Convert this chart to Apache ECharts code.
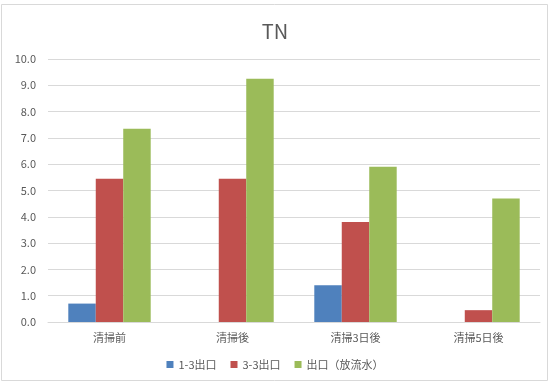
<!DOCTYPE html>
<html>
<head>
<meta charset="utf-8">
<script src="https://cdn.jsdelivr.net/npm/echarts@6/dist/echarts.min.js"></script>
<style>
html,body{margin:0;padding:0;background:#fff;}
#chart{width:550px;height:383px;}
</style>
</head>
<body>
<div id="chart"></div>
<script>
// TN concentration at each sampling point, before and after cleaning
const categories = ['清掃前', '清掃後', '清掃3日後', '清掃5日後'];
const outlet13 = [0.7, null, 1.4, null];
const outlet33 = [5.45, 5.45, 3.8, 0.45];
const outletMain = [7.35, 9.25, 5.9, 4.7];
const seriesNames = ['1-3出口', '3-3出口', '出口（放流水）'];
const colors = ['#4F81BD', '#C0504D', '#9BBB59'];

const font = '"Noto Sans CJK JP", "Noto Sans", sans-serif';
const chart = echarts.init(document.getElementById('chart'));
chart.setOption({
  animation: false,
  backgroundColor: '#fff',
  textStyle: { fontFamily: font },
  graphic: [{
    type: 'rect',
    shape: { x: 1.5, y: 4.5, width: 546, height: 376 },
    style: { fill: 'none', stroke: '#d9d9d9', lineWidth: 1 },
    silent: true
  }],
  title: {
    text: 'TN', left: 'center', top: 16,
    textStyle: { fontFamily: font, fontSize: 20, fontWeight: 'normal', color: '#595959' }
  },
  legend: {
    bottom: 8, left: 'center', itemGap: 14, itemWidth: 7, itemHeight: 7,
    icon: 'rect',
    textStyle: { fontFamily: font, fontSize: 11, color: '#595959' },
    data: seriesNames
  },
  grid: { left: 48, right: 10, top: 59, bottom: 61 },
  xAxis: {
    type: 'category', data: categories,
    axisTick: { show: false },
    axisLine: { lineStyle: { color: '#d9d9d9' } },
    axisLabel: { color: '#595959', fontSize: 11, margin: 10, fontFamily: font }
  },
  yAxis: {
    type: 'value', min: 0, max: 10, interval: 1,
    axisLabel: { color: '#595959', fontSize: 11, margin: 12, formatter: v => v.toFixed(1), fontFamily: font },
    splitLine: { lineStyle: { color: '#d9d9d9' } },
    axisLine: { show: false }, axisTick: { show: false }
  },
  series: [outlet13, outlet33, outletMain].map((d, i) => ({
    name: seriesNames[i], type: 'bar', data: d,
    barGap: '0%', barCategoryGap: '33%',
    itemStyle: { color: colors[i] }
  }))
});
</script>
</body>
</html>
